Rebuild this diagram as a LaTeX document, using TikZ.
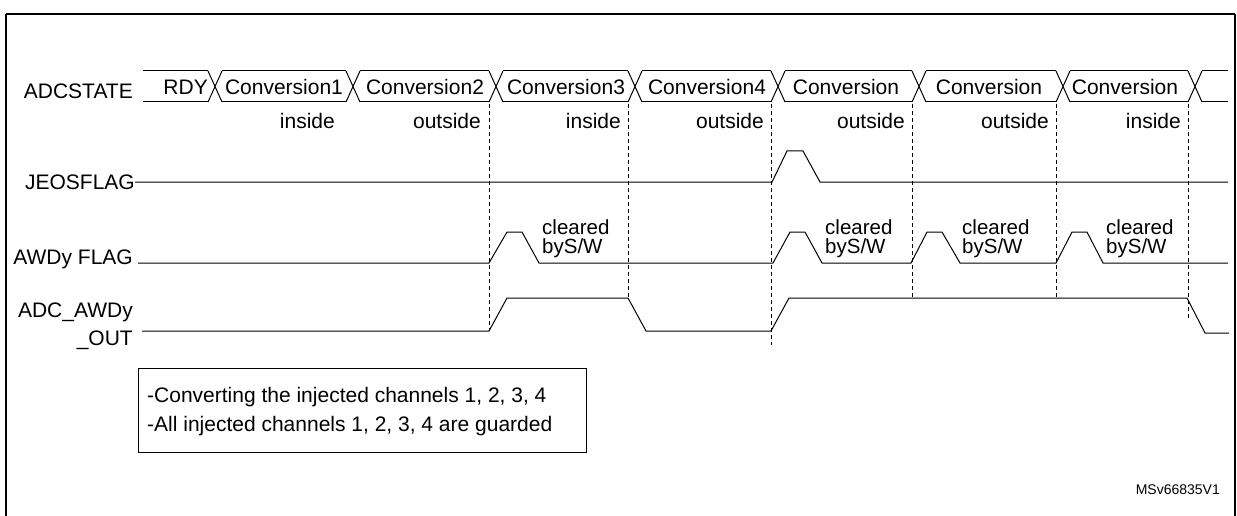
\documentclass[tikz,border=0pt]{standalone}
\usepackage{fontspec}
\setmainfont{Liberation Sans}
\begin{document}
\begin{tikzpicture}[x=1pt,y=-1pt,
  sig/.style={line width=1pt},
  dsh/.style={dash pattern=on 4pt off 3pt, line width=0.8pt},
  lbl/.style={font=\fontsize{21}{23}\selectfont, inner sep=0pt},
  sm/.style={font=\fontsize{14}{16}\selectfont, inner sep=0pt}]
\useasboundingbox (0,0) rectangle (1237,516);
\draw[line width=1.4pt] (6,14) -- (1235,14) (6,14) -- (6,516) (1235,14) -- (1235,516);
% bus
\def\T{71}\def\B{102}\def\M{87}
\draw[sig] (143,\T) -- (208,\T) (143,\B) -- (208,\B);
\foreach \a/\b in {215/353,353/496,496/635,635/778,778/919,919/1063,1063/1195}{
  \draw[sig] (\a+7,\T) -- (\b-7,\T) (\a+7,\B) -- (\b-7,\B);}
\foreach \b in {215,353,496,635,778,919,1063,1195}
  \draw[sig] (\b-7,\T) -- (\b+7,\B) (\b-7,\B) -- (\b+7,\T);
\draw[sig] (1202,\T) -- (1228,\T) (1202,\B) -- (1228,\B);
\node[lbl,anchor=east] (rdy) at (208,\M) {RDY};
\node[lbl] (c1) at (284,\M) {Conversion1};
\node[lbl] (c2) at (425,\M) {Conversion2};
\node[lbl] (c3) at (566,\M) {Conversion3};
\node[lbl] (c4) at (707,\M) {Conversion4};
\node[lbl] (c5) at (846,\M) {Conversion};
\node[lbl] (c6) at (989,\M) {Conversion};
\node[lbl] (c7) at (1125,\M) {Conversion};
\foreach \x/\t in {335/inside,481/outside,621/inside,764/outside,905/outside,1049/outside,1181/inside}
  \node[lbl,anchor=east] at (\x,121) {\t};
% dashed lines
\foreach \x/\e in {489/331,628/300,771/345,912/300,1056/300,1188/320}
  \draw[dsh] (\x,104) -- (\x,\e);
% labels
\node[lbl,anchor=east] (la) at (133,91) {ADCSTATE};
\node[lbl,anchor=east] (lj) at (135,182) {JEOSFLAG};
\node[lbl,anchor=east] (lw) at (133,259) {AWDy FLAG};
\node[lbl,anchor=east] (lo1) at (133,312) {ADC\_AWDy};
\node[lbl,anchor=east] (lo2) at (133,340) {\_OUT};
% JEOSFLAG
\draw[sig] (135,182) -- (772,182) -- (787,151) -- (803,151) -- (820,182) -- (1228,182);
% AWDy FLAG
\draw[sig] (138,263) -- (489,263) -- (507,232) -- (522,232) -- (539,263) -- (773,263)
  -- (790,232) -- (805,232) -- (822,263) -- (911,263) -- (927,232) -- (942,232) -- (960,263)
  -- (1056,263) -- (1072,232) -- (1087,232) -- (1103,263) -- (1228,263);
\foreach \x in {542,825,962,1106}
  \node[lbl,anchor=west,align=left,font=\fontsize{20.5}{19}\selectfont] at (\x,239) {cleared\\byS/W};
% ADC_AWDy_OUT
\draw[sig] (142,331) -- (489,331) -- (507,298) -- (628,298) -- (646,331) -- (771,331)
  -- (789,298) -- (1187,298) -- (1205,333) -- (1229,333);
% box
\draw[line width=0.9pt] (138,368) rectangle (586,452);
\node[lbl,anchor=west] (t1) at (147,397) {-Converting the injected channels 1, 2, 3, 4};
\node[lbl,anchor=west] (t2) at (147,426) {-All injected channels 1, 2, 3, 4 are guarded};
\node[sm,anchor=east] (ms) at (1220,490) {MSv66835V1};
\end{tikzpicture}
\end{document}
